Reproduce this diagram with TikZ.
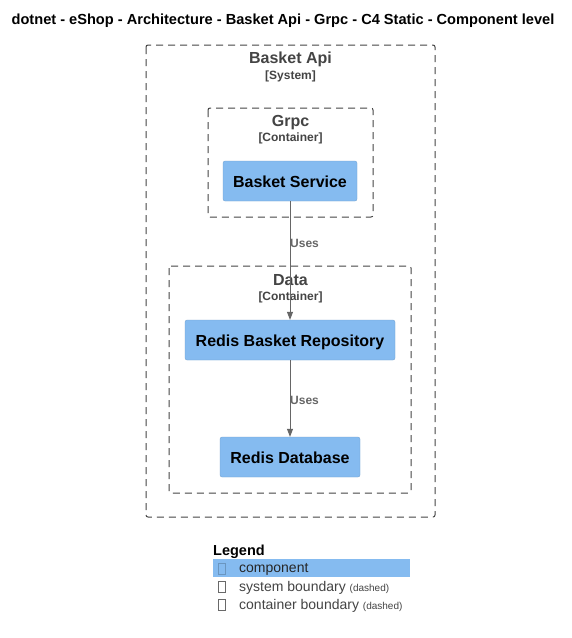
\documentclass[tikz,border=0pt]{standalone}
\usepackage{fontspec}
\setmainfont{Liberation Sans}
\usetikzlibrary{arrows.meta}
\definecolor{compblue}{HTML}{85BBF0}
\definecolor{bndgray}{HTML}{444444}
\definecolor{arrgray}{HTML}{666666}
\begin{document}
\begin{tikzpicture}[x=1pt,y=-1pt,
  boundary/.style={draw=bndgray,dash pattern=on 7pt off 5pt,rounded corners=2pt,line width=1pt},
  comp/.style={fill=compblue,draw=compblue!85!black,line width=0.3pt,rounded corners=2pt,inner sep=0pt,text height=15pt,text depth=3pt,font=\fontsize{16}{18}\selectfont\bfseries,text=black},
  btitle/.style={font=\fontsize{16}{18}\selectfont\bfseries,text=bndgray},
  btype/.style={font=\fontsize{12}{14}\selectfont\bfseries,text=bndgray},
  rel/.style={draw=arrgray,line width=1pt,-{Triangle[length=8pt,width=6pt]}},
  rellabel/.style={font=\fontsize{12}{14}\selectfont\bfseries,text=arrgray},
  legtext/.style={font=\fontsize{14}{16}\selectfont,text=bndgray,anchor=west,inner sep=0pt},
  tofu/.style={draw=bndgray!80,line width=0.5pt,minimum width=7pt,minimum height=11pt,inner sep=0pt}
]
\useasboundingbox[fill=white] (0,0) rectangle (572,638);
% title
\node[font=\fontsize{14.6}{16}\selectfont\bfseries] (title) at (283,21) {dotnet - eShop - Architecture - Basket Api - Grpc - C4 Static - Component level};
% system boundary
\draw[boundary] (146,45) rectangle (435,517);
\node[btitle] (systitle) at (290.5,59.5) {Basket Api};
\node[btype] (systype) at (290.5,76) {[System]};
% Grpc container
\draw[boundary] (208,108) rectangle (373,217);
\node[btitle] (grpctitle) at (290.5,122.5) {Grpc};
\node[btype] (grpctype) at (290.5,138) {[Container]};
\node[comp,minimum width=134pt,minimum height=40pt] (bs) at (290,181) {Basket Service};
% Data container
\draw[boundary] (169,266) rectangle (411,493);
\node[btitle] (datatitle) at (290.5,280.5) {Data};
\node[btype] (datatype) at (290.5,297) {[Container]};
\node[comp,minimum width=210pt,minimum height=40pt] (rbr) at (290,340) {Redis Basket Repository};
\node[comp,minimum width=140pt,minimum height=40pt] (rdb) at (290,457) {Redis Database};
% relations
\draw[rel] (bs.south) -- (rbr.north);
\node[rellabel,anchor=west,inner sep=0pt] (u1) at (290,243) {Uses};
\draw[rel] (rbr.south) -- (rdb.north);
\node[rellabel,anchor=west,inner sep=0pt] (u2) at (290,400) {Uses};
% legend
\node[font=\fontsize{14.5}{16}\selectfont\bfseries,anchor=west,inner sep=0pt,text=black] (legend) at (213,551.5) {Legend};
\fill[compblue] (213,559) rectangle (410,577);
\node[tofu,draw=compblue!80!black] (t1) at (222,569) {};
\node[legtext,text=black!85] (l1) at (239,569.5) {component};
\node[tofu] (t2) at (222,587) {};
\node[legtext] (l2) at (239,587.5) {system boundary {\fontsize{10}{11}\selectfont (dashed)}};
\node[tofu] (t3) at (222,605) {};
\node[legtext] (l3) at (239,605.5) {container boundary {\fontsize{10}{11}\selectfont (dashed)}};
\end{tikzpicture}
\end{document}
